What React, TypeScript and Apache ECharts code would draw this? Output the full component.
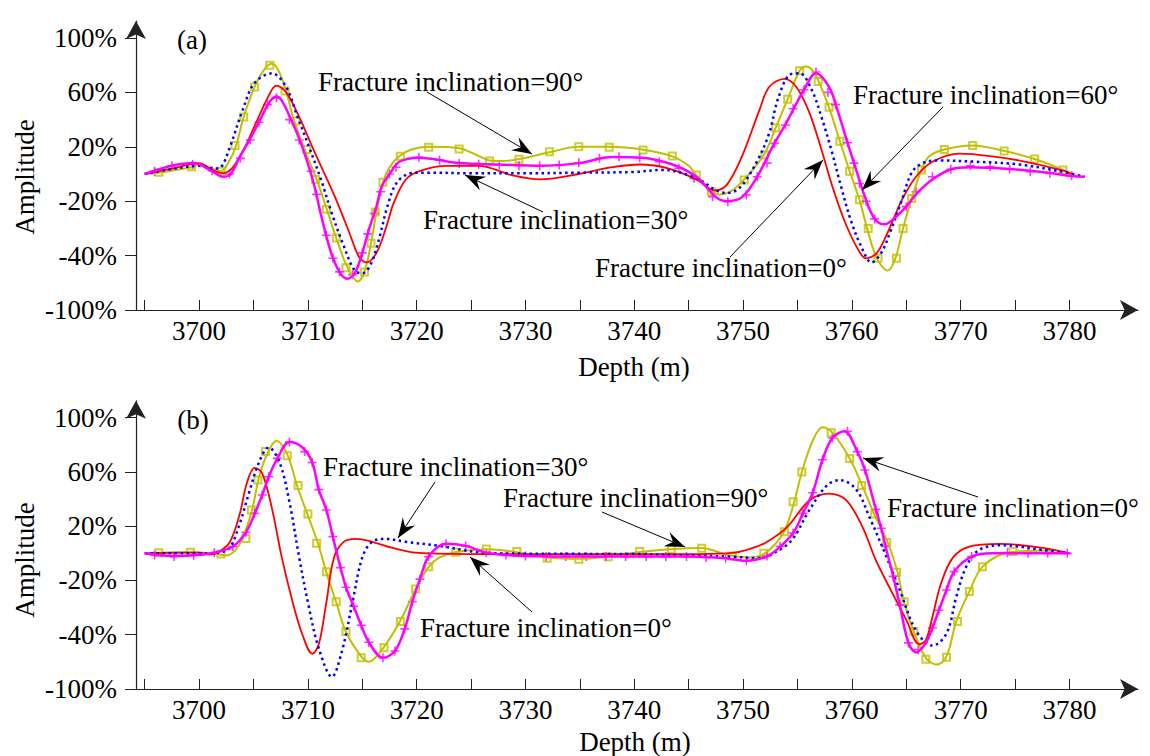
import React, { useEffect, useRef } from "react";
import * as echarts from "echarts";

// ---------- axis ticks ----------
const xTickValues = [3695, 3700, 3705, 3710, 3715, 3720, 3725, 3730, 3735, 3740, 3745, 3750, 3755, 3760, 3765, 3770, 3775, 3780];
const xLabelValues = [3700, 3710, 3720, 3730, 3740, 3750, 3760, 3770, 3780];
const yTickValues = [-100, -60, -20, 20, 60, 100];
const yTickLabels = ["-100%", "-40%", "-20%", "20%", "60%", "100%"];

// ---------- panel (a) ----------
const aYellow90 = [[3695,0],[3696.3,1],[3699.3,5],[3700,7],[3701.2,4],[3702,2],[3702.8,10],[3703.4,21],[3704.1,42],[3705.1,64],[3706,77],[3706.7,81],[3707.3,76],[3708,61],[3708.7,40],[3709.8,16],[3710.8,-4],[3711.7,-25],[3712.6,-47],[3713.6,-68],[3714.6,-79],[3715.2,-72],[3715.8,-51],[3716.3,-28],[3716.9,-6],[3717.5,5],[3718.4,13],[3719.5,18],[3721.1,20],[3723.9,19],[3725.5,14],[3726.7,10],[3728,9.5],[3729.4,11],[3732.2,16],[3734.9,20],[3737.7,20],[3740.7,18],[3743.5,13],[3745,6],[3745.7,-1],[3747.2,-13],[3747.8,-15],[3749,-12],[3750.1,-4],[3751.9,14],[3753,34],[3754.1,55],[3755.2,76],[3755.8,79],[3756.4,76],[3757,67],[3757.9,49],[3758.9,24],[3759.8,2],[3760.7,-19],[3761.4,-40],[3762.3,-62],[3763.3,-71],[3764,-62],[3764.7,-40],[3765.5,-18],[3766.4,3],[3767.1,13],[3768.5,18],[3771.1,21],[3774,17],[3776.8,11],[3779.4,3],[3780.2,-1]];
const aBlue30 = [[3695,0],[3697,3],[3700,6],[3701.4,4],[3702,5],[3702.8,19],[3704,47],[3705.1,67],[3706.7,74],[3708,64],[3709,43],[3710.1,20],[3711.2,-4],[3712.2,-29],[3713.3,-53],[3714.3,-71],[3715,-73],[3715.8,-66],[3716.6,-46],[3717.3,-24],[3718.2,-6],[3719.6,0.7],[3721.1,1],[3725,0.5],[3730,0.5],[3735,1],[3740,1.5],[3742.6,3],[3745.7,-3],[3747.5,-12],[3748.5,-14],[3749.7,-10],[3751.2,8],[3752.4,30],[3753.2,55],[3754.3,73],[3755.2,74],[3756.3,62],[3757.2,42],[3758.1,18],[3759,-9],[3759.9,-34],[3760.9,-54],[3761.8,-65],[3762.7,-58],[3763.6,-41],[3764.6,-19],[3765.5,1],[3766.5,8],[3768,10],[3771.4,9],[3775.4,7],[3779.1,2],[3781.4,-2]];
const aRed0 = [[3695,0],[3697.5,4],[3700,8],[3701.2,3],[3702.1,0.7],[3703,4],[3704.1,18],[3705.2,37],[3706.3,56],[3707.1,65],[3708,60],[3709.2,42],[3710.4,20],[3711.5,0.7],[3712.6,-19],[3713.8,-43],[3714.7,-61],[3715.4,-65],[3716.3,-58],[3717.2,-39],[3717.9,-21],[3719,-4],[3720.2,2],[3722.7,6],[3725.7,6],[3728.8,-1],[3731.3,-4],[3734.9,0],[3738,5],[3740.5,7],[3743.2,4],[3745.7,-4],[3747.4,-12],[3748.5,-8],[3749.9,13],[3751.5,47],[3752.4,64],[3753.8,70],[3754.9,64],[3756.1,45],[3757.2,18],[3758.2,-9],[3759.3,-34],[3760.4,-53],[3761.3,-62],[3762.3,-58],[3763.4,-41],[3764.6,-19],[3765.9,-2],[3767.4,9],[3769.9,15],[3772.9,13],[3776,9],[3779.7,2],[3780.2,0]];
const aMagenta60 = [[3695,0],[3697.5,6],[3699.5,8],[3701.2,2],[3702.2,-2],[3702.9,0],[3703.7,12],[3704.7,26],[3705.5,38],[3706.4,52],[3707.1,57],[3707.6,54],[3708.4,41],[3709.2,26],[3709.9,10],[3710.6,-9],[3711.2,-30],[3712.1,-57],[3712.9,-72],[3713.6,-77],[3714.3,-73],[3715,-58],[3715.6,-41],[3716.3,-24],[3716.8,-9],[3717.6,1],[3718.4,9],[3720.2,12],[3723.9,8],[3727.6,7],[3731.3,6],[3734.9,8],[3738,12.5],[3740.7,12],[3743.5,7],[3745.7,-2],[3747.5,-17],[3748.5,-20],[3749.9,-17],[3751.3,-2],[3752.7,20],[3754,38],[3755.6,62],[3756.7,74],[3757.9,64],[3758.6,49],[3759.6,23],[3760.4,3],[3761.3,-19],[3762.1,-33],[3763,-37],[3763.7,-34],[3765,-24],[3766,-14],[3767.4,-4],[3769.2,3.7],[3770.8,5],[3774.5,3.7],[3778.2,0.7],[3780.2,-1.5],[3781.4,-2]];
const aYellowMarks = [[3696.3,1.2],[3699.3,5.4],[3702,2],[3703.3,21],[3704.1,42],[3705.1,64],[3706.5,80],[3707.9,61],[3708.9,39],[3709.9,18],[3710.7,-4],[3711.7,-26],[3712.6,-47],[3713.5,-69],[3715.2,-72],[3715.8,-51],[3716.2,-28],[3716.9,-6],[3718.5,13],[3721.1,19.6],[3723.9,18.4],[3726.7,9.6],[3729.4,10.8],[3732.2,16.4],[3734.9,20],[3737.7,19.6],[3740.8,17.6],[3743.5,13.2],[3745.7,-0.7],[3747.1,-13],[3750.1,-4.4],[3752,14],[3753,34],[3754.1,55],[3755.2,76],[3756.9,68],[3757.9,49],[3758.9,24],[3759.8,2],[3760.7,-19],[3761.5,-40],[3762.4,-62],[3764.1,-62],[3764.7,-40],[3765.5,-18],[3766.4,3],[3768.5,18],[3771.1,21],[3774,17],[3776.8,11],[3779.4,3]];
const aMagentaMarks = [[3695.9,2],[3697.5,6],[3699.4,7],[3701.2,2.4],[3702.8,0],[3703.8,11.5],[3704.7,25],[3705.5,38],[3706.3,51],[3707.1,56],[3708.3,40],[3709.2,25],[3710.3,2],[3710.8,-15],[3711.7,-45],[3712.3,-62],[3712.9,-72],[3714.1,-74],[3715,-58],[3715.5,-44],[3716.1,-29],[3716.7,-13],[3717.5,0],[3718.1,5],[3720.2,12.3],[3722.1,10.3],[3723.9,7.8],[3725.7,7.1],[3727.6,6.6],[3729.4,6.1],[3731.3,6.1],[3733.1,6.6],[3734.9,8.3],[3736.8,11.5],[3738.6,12.7],[3740.5,12],[3742.3,9],[3744.1,4.2],[3745.5,-3.2],[3747.2,-16.7],[3748.6,-20.4],[3750.3,-15.4],[3751.3,-2],[3752.2,8],[3752.9,22.5],[3753.9,36],[3754.6,48],[3755.6,62],[3756.7,75],[3757.8,60],[3758.5,51],[3759.6,23],[3760.2,8],[3760.7,-7],[3761.3,-20],[3762.1,-33],[3765,-24],[3765.9,-13],[3767.4,-2],[3769.1,3.5],[3770.9,6],[3772.7,5.4],[3774.5,3.7],[3776.4,1.7],[3778.2,0.5],[3780.2,-1.2]];

// ---------- panel (b) ----------
const bYellow90 = [[3695,0],[3699.2,0.8],[3701,0],[3702.5,-1.5],[3703.3,2],[3704,11],[3704.9,33],[3705.5,56],[3706.3,74],[3707.1,83],[3708.1,73],[3709,50],[3709.9,30],[3710.9,8],[3711.7,-14],[3712.6,-36],[3713.5,-58],[3714.9,-76],[3715.6,-80],[3716.9,-70],[3718.4,-51],[3720,-25],[3721.1,-10],[3722.1,-3],[3723.6,1],[3726.4,3],[3729.1,1],[3732,-3],[3734.9,-4],[3737.4,-2.5],[3740.5,1],[3743.2,3],[3746.2,4],[3748.5,-1],[3750.6,-3],[3752,0],[3753.7,15],[3754.7,38],[3755.4,60],[3756.4,83],[3757.3,93],[3758.2,89],[3759.8,70],[3761,49],[3762.1,28],[3763.3,8],[3764.2,-14],[3764.8,-36],[3765.7,-58],[3766.8,-77],[3767.8,-82],[3768.7,-76],[3769.6,-50],[3770.8,-28],[3772,-10],[3774.3,0.5],[3777.5,2],[3778.5,2]];
const bBlue30 = [[3695,0],[3700,0],[3701.8,0.5],[3702.8,4],[3703.7,21],[3704.6,45],[3705.5,67],[3706.4,78],[3707.4,67],[3708.3,38],[3709.2,-3],[3710.1,-40],[3711,-70],[3712.2,-91],[3713.1,-73],[3714.1,-36],[3715,-3],[3715.9,8.5],[3717.2,10.6],[3719,8.5],[3722.1,5.5],[3726.4,0.3],[3732,-0.3],[3739.8,-0.5],[3745,-1.5],[3749,-2.5],[3751.5,-3.5],[3753,1],[3754.5,10],[3756.1,32],[3757.7,50],[3758.9,54],[3760.4,47],[3761.6,27],[3763.2,-3],[3764.4,-27],[3765.9,-57],[3767.4,-68],[3768.7,-59],[3769.6,-32],[3770.5,-10],[3771.7,2.5],[3773.8,6],[3777.5,2.5],[3780,0]];
const bRed0 = [[3695,0],[3698,0.5],[3700,0.5],[3701,-1],[3701.8,1],[3702.8,8],[3703.7,28],[3704.4,52],[3705.1,63],[3705.8,59],[3706.7,33],[3707.6,-3],[3708.6,-36],[3709.5,-60],[3710.4,-74],[3711,-67],[3711.7,-36],[3712.4,-3],[3713.3,8.5],[3714.4,10.6],[3715.9,8.5],[3717.8,4],[3720.2,0.3],[3724.6,-0.5],[3735,-0.5],[3746,-0.5],[3749,0.3],[3750.9,4],[3752.1,8],[3754,19],[3756.1,39],[3757.9,44],[3759.5,39],[3761,19],[3762.2,-5],[3763.7,-29],[3765,-49],[3766.2,-67],[3766.8,-64],[3767.4,-47],[3768.2,-22],[3769.3,-3],[3770.8,5],[3773.6,7],[3777.5,4],[3780,0]];
const bMagenta60 = [[3695,0],[3695.9,-1],[3697.7,-2],[3699.5,-1.4],[3701.4,0.5],[3703.1,5],[3704.3,15.5],[3705.1,29],[3705.8,43],[3706.4,56.5],[3707.2,70],[3708.3,82],[3709.5,78],[3710.4,67],[3711,47],[3711.7,32],[3712.3,12],[3713,-10.5],[3713.5,-25],[3714.2,-39],[3714.9,-53],[3715.6,-65.5],[3716.9,-77],[3718,-72],[3718.9,-55.7],[3719.6,-35.6],[3720.3,-19],[3721.1,-2.4],[3722.7,7],[3724.5,5.5],[3726.4,0.5],[3728.2,-1.2],[3730,-2],[3735,-2.4],[3745,-2.4],[3748.4,-3.6],[3750.3,-5.4],[3752.1,-2.5],[3753,2],[3754.6,15],[3755.5,29.5],[3756.4,44.7],[3757.3,69],[3758.2,85],[3759.3,90],[3760.5,75],[3761.2,61.5],[3762.2,32.5],[3762.7,18.5],[3763.1,5],[3763.8,-17],[3764.4,-38],[3765.2,-66],[3765.9,-73],[3766.8,-66],[3767.4,-55],[3768,-42],[3768.7,-27],[3769.4,-13.5],[3771,-2.4],[3772.9,0],[3776,0],[3780,0]];
const bYellowMarks = [[3696.3,0.5],[3699.2,0.8],[3702,-0.5],[3704.3,11],[3704.8,32],[3705.4,54],[3706.1,75],[3708.1,72],[3709.1,50],[3710,29],[3710.8,7.4],[3711.7,-13.5],[3712.6,-35.6],[3713.5,-57.7],[3714.9,-76.9],[3717,-69.5],[3718.5,-50.3],[3719.9,-26.2],[3721.1,-9.8],[3723.6,0.8],[3726.4,3.2],[3729.2,1.3],[3732,-3.6],[3734.9,-4.3],[3737.6,-2.5],[3740.5,1.3],[3743.4,3],[3746.2,3.8],[3749,-2],[3751.9,0],[3753.8,16],[3754.6,38],[3755.4,60],[3758.1,89],[3759.8,70],[3760.9,50],[3762.1,29],[3763.2,8],[3764.1,-14],[3764.8,-35.6],[3765.7,-57.7],[3766.8,-78],[3768.7,-76.6],[3769.7,-50.3],[3770.8,-28.2],[3772,-9.8],[3774.8,1.3]];
const bMagentaMarks = [[3695.9,-1.2],[3697.7,-2.4],[3699.5,-1.4],[3701.4,0.5],[3703.1,5],[3704.3,15.5],[3705.1,29.5],[3705.8,43],[3706.4,56.5],[3707.2,70],[3708.3,82],[3709.7,75],[3710.4,67],[3711,47],[3711.7,32],[3712.3,12.3],[3713,-10.5],[3713.5,-25],[3714.2,-39],[3714.9,-53],[3715.6,-65.5],[3716.9,-77],[3718,-72],[3718.9,-55.7],[3719.6,-35.6],[3720.3,-19],[3721.1,-2.4],[3722.7,7],[3724.5,5.5],[3726.4,0.5],[3728.2,-1.2],[3730,-2],[3731.9,-2.4],[3733.7,-2.4],[3735.6,-2.4],[3737.4,-2.4],[3739.2,-2.4],[3741.1,-2.4],[3742.9,-2.4],[3744.8,-2.4],[3746.6,-3],[3748.4,-3.6],[3750.3,-5.4],[3752.2,-2],[3753.4,5],[3754.6,15],[3755.5,29.5],[3756.4,44.7],[3757.3,69],[3758.2,85],[3759.6,90],[3760.5,75],[3761.2,61.5],[3762.2,32.5],[3762.7,18.5],[3763.1,5],[3763.8,-17],[3764.4,-38],[3765.2,-66],[3766.1,-71],[3767.4,-55],[3768,-42],[3768.7,-27],[3769.4,-13.5],[3771,-2.4],[3774.3,0.5],[3776.2,0],[3778,0],[3779.8,0]];

// ---------- texts ----------
const annotationText = ["Fracture inclination=90°", "Fracture inclination=30°", "Fracture inclination=0°", "Fracture inclination=60°"];

const FONT = "'Liberation Serif', 'Times New Roman', serif";
const YELLOW = "#bfbf00";
const MAGENTA = "#ff00ff";
const BLUE = "#0000ff";
const RED = "#ff0000";
const AXIS = "#222222";

function arrowHead(tx: number, ty: number, fx: number, fy: number) {
  const dx = tx - fx, dy = ty - fy;
  const len = Math.sqrt(dx * dx + dy * dy);
  const ux = dx / len, uy = dy / len;
  const nx = -uy, ny = ux;
  const L = 20, W = 15, N = 13;
  return {
    type: "polygon",
    shape: {
      points: [
        [tx, ty],
        [tx - L * ux + (W / 2) * nx, ty - L * uy + (W / 2) * ny],
        [tx - N * ux, ty - N * uy],
        [tx - L * ux - (W / 2) * nx, ty - L * uy - (W / 2) * ny],
      ],
    },
    style: { fill: "#000" },
    z: 100,
  };
}

function annotation(text: string, lx: number, ly: number, x1: number, y1: number, tx: number, ty: number) {
  return [
    {
      type: "text",
      x: lx,
      y: ly,
      style: { text, font: `27px ${FONT}`, fill: "#000", textAlign: "left", textVerticalAlign: "middle" },
      z: 100,
    },
    { type: "line", shape: { x1, y1, x2: tx, y2: ty }, style: { stroke: "#000", lineWidth: 1 }, z: 100 },
    arrowHead(tx, ty, x1, y1),
  ];
}

function plainText(text: string, x: number, y: number, rotation = 0) {
  return {
    type: "text",
    x,
    y,
    rotation,
    style: { text, font: `27px ${FONT}`, fill: "#000", textAlign: "center", textVerticalAlign: "middle" },
    z: 100,
  };
}

function makeXAxis(gridIndex: number) {
  return {
    type: "value",
    gridIndex,
    min: 3694.2,
    max: 3786.3,
    axisLine: { show: true, onZero: false, symbol: ["none", "arrow"], symbolSize: [15, 18], lineStyle: { color: AXIS, width: 1.2 } },
    axisTick: { show: true, inside: true, length: 10, customValues: xTickValues, lineStyle: { color: AXIS, width: 1 } },
    axisLabel: {
      customValues: xLabelValues,
      fontSize: 27,
      fontFamily: FONT,
      color: "#000",
      margin: 7,
      formatter: (v: number) => String(Math.round(v)),
    },
    splitLine: { show: false },
  };
}

function makeYAxis(gridIndex: number) {
  return {
    type: "value",
    gridIndex,
    min: -100,
    max: 112.5,
    axisLine: { show: true, onZero: false, symbol: ["none", "arrow"], symbolSize: [15, 18], lineStyle: { color: AXIS, width: 1.2 } },
    axisTick: { show: true, inside: false, length: 11, customValues: yTickValues, lineStyle: { color: AXIS, width: 1 } },
    axisLabel: {
      customValues: yTickValues,
      fontSize: 27,
      fontFamily: FONT,
      color: "#000",
      margin: 19,
      formatter: (v: number) => {
        const i = yTickValues.indexOf(Math.round(v));
        return i >= 0 ? yTickLabels[i] : "";
      },
    },
    splitLine: { show: false },
  };
}

function panelSeries(p: number, yellow: number[][], red: number[][], blue: number[][], magenta: number[][], yMarks: number[][], mMarks: number[][]) {
  const base = { xAxisIndex: p, yAxisIndex: p, silent: true };
  return [
    { ...base, type: "line", data: yellow, smooth: 0.35, showSymbol: false, symbol: "none", lineStyle: { color: YELLOW, width: 2 } },
    { ...base, type: "scatter", data: yMarks, symbol: "rect", symbolSize: 7, itemStyle: { color: "rgba(0,0,0,0)", borderColor: YELLOW, borderWidth: 2 } },
    { ...base, type: "line", data: red, smooth: 0.35, showSymbol: false, symbol: "none", lineStyle: { color: RED, width: 1.8 } },
    { ...base, type: "line", data: blue, smooth: 0.35, showSymbol: false, symbol: "none", lineStyle: { color: BLUE, width: 2.5, type: [2.5, 3.5] } },
    { ...base, type: "line", data: magenta, smooth: 0.35, showSymbol: false, symbol: "none", lineStyle: { color: MAGENTA, width: 2.5 } },
    { ...base, type: "scatter", data: mMarks, symbol: "path://M5,0L5,10M0,5L10,5", symbolSize: 9, itemStyle: { color: "rgba(0,0,0,0)", borderColor: MAGENTA, borderWidth: 1.6 } },
  ];
}

export default function App() {
  const ref = useRef<HTMLDivElement>(null);
  useEffect(() => {
    if (!ref.current) return;
    const chart = echarts.init(ref.current, null, { renderer: "svg" });
    const graphics: any[] = [
      plainText("(a)", 192, 40),
      plainText("(b)", 193, 420),
      plainText("Amplitude", 25, 177, Math.PI / 2),
      plainText("Amplitude", 25, 560, Math.PI / 2),
      plainText("Depth (m)", 634, 367),
      plainText("Depth (m)", 635, 742),
      ...annotation(annotationText[0], 318, 82, 427, 92, 532, 154),
      ...annotation(annotationText[1], 423, 220, 543, 212, 465, 175),
      ...annotation(annotationText[2], 595, 268, 730, 257, 823, 160),
      ...annotation(annotationText[3], 853, 95, 943, 107, 862, 190),
      ...annotation(annotationText[1], 323, 467, 435, 482, 398, 538),
      ...annotation(annotationText[0], 503, 498, 602, 512, 685, 547),
      ...annotation(annotationText[2], 420, 628, 532, 612, 470, 557),
      ...annotation(annotationText[2], 887, 508, 978, 497, 863, 458),
    ];
    chart.setOption({
      animation: false,
      backgroundColor: "#ffffff",
      grid: [
        { left: 136, top: 21, width: 1002, height: 289 },
        { left: 136, top: 400.75, width: 1002, height: 288.25 },
      ],
      xAxis: [makeXAxis(0), makeXAxis(1)],
      yAxis: [makeYAxis(0), makeYAxis(1)],
      series: [
        ...panelSeries(0, aYellow90, aRed0, aBlue30, aMagenta60, aYellowMarks, aMagentaMarks),
        ...panelSeries(1, bYellow90, bRed0, bBlue30, bMagenta60, bYellowMarks, bMagentaMarks),
      ],
      graphic: graphics,
    });
    return () => chart.dispose();
  }, []);
  return <div ref={ref} style={{ position: "absolute", left: 0, top: 0, width: 1150, height: 756, background: "#fff" }} />;
}
